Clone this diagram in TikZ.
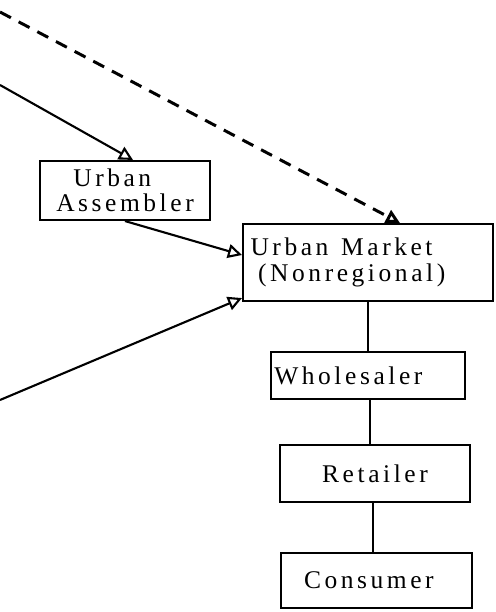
\documentclass[tikz,border=0pt]{standalone}
\usepackage{fontspec}
\setmainfont{Liberation Serif}[LetterSpace=14]
\usetikzlibrary{arrows.meta}

\tikzset{
    stagebox/.style={draw, line width=1.2pt, inner sep=2pt, font=\fontsize{14.5}{17}\selectfont},
    flowline/.style={line width=1.2pt},
    flowarrow/.style={line width=1.2pt, -{Triangle[open, length=2.8mm, width=2.8mm]}},
    leakarrow/.style={line width=1.7pt, dash pattern=on 7pt off 5pt, -{Triangle[open, length=2.8mm, width=2.8mm]}}
}

\begin{document}
\begin{tikzpicture}[x=0.02cm, y=-0.02cm]
    \useasboundingbox (0,0) rectangle (495,612);

    % Marketing stages
    \node[stagebox, minimum width=3.4cm, minimum height=1.18cm, align=center] (assembler) at (125,190.5) {Urban\kern1em\\[-3pt]Assembler};
    \node[stagebox, minimum width=5cm, minimum height=1.54cm, text width=4.7cm, align=left] (market) at (368,262.5) {Urban\, Market\\[-2pt]\hspace{0.3em}(Nonregional)};
    \node[stagebox, minimum width=3.84cm, minimum height=0.94cm, text width=3.75cm, align=left] (wholesaler) at (368,375.5) {Wholesaler};
    \node[stagebox, minimum width=3.8cm, minimum height=1.14cm] (retailer) at (375,473.5) {Retailer};
    \node[stagebox, minimum width=3.82cm, minimum height=1.1cm] (consumer) at (376.5,580.5) {Consumer\kern0.6em};

    % Incoming flows from the left
    \coordinate (leakstart) at (0,12);
    \coordinate (upperstart) at (0,85);
    \coordinate (lowerstart) at (0,400);
    \draw[leakarrow] (leakstart) -- ([xshift=0.64cm]market.north);
    \draw[flowarrow] (upperstart) -- ([xshift=0.16cm]assembler.north);
    \draw[flowarrow] (assembler.south) -- ([yshift=0.15cm]market.west);
    \draw[flowarrow] (lowerstart) -- ([yshift=0.08cm]market.south west);

    % Distribution chain
    \draw[flowline] (market.south) -- (market.south |- wholesaler.north);
    \draw[flowline] ([xshift=0.04cm]wholesaler.south) -- ([xshift=0.04cm]wholesaler.south |- retailer.north);
    \draw[flowline] ([xshift=-0.04cm]retailer.south) -- ([xshift=-0.04cm]retailer.south |- consumer.north);
\end{tikzpicture}
\end{document}
